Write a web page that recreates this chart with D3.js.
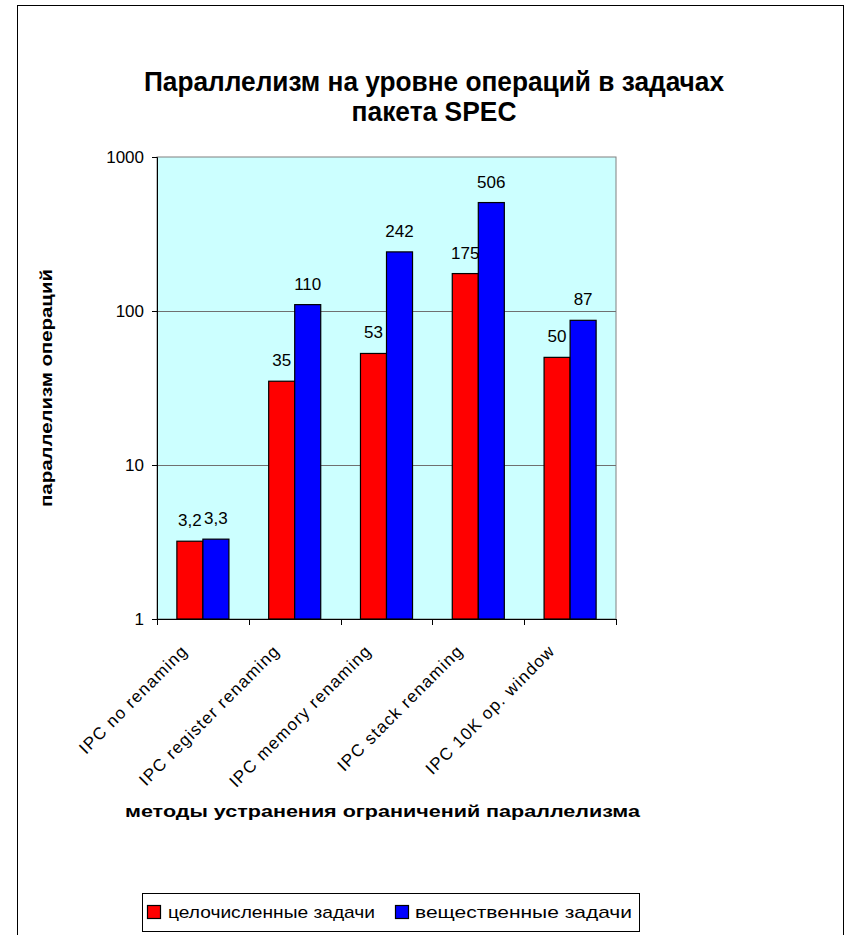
<!DOCTYPE html>
<html>
<head>
<meta charset="utf-8">
<script src="https://cdn.jsdelivr.net/npm/d3@7"></script>
<style>
  html, body { margin: 0; padding: 0; background: #ffffff; }
  svg { display: block; }
  text { font-family: "Liberation Sans", Arial, sans-serif; fill: #000; }
</style>
</head>
<body>
<svg id="chart" width="850" height="935"></svg>
<script>
// Instruction-level parallelism of SPEC programs, by renaming technique
const categories = [
  "IPC no renaming",
  "IPC register renaming",
  "IPC memory renaming",
  "IPC stack renaming",
  "IPC 10K op. window"
];
const seriesNames = ["целочисленные задачи", "вещественные задачи"];
const integerTasks = [3.2, 35, 53, 175, 50];
const floatTasks = [3.3, 110, 242, 506, 87];
const seriesColors = ["#ff0000", "#0000ff"];
const yTicks = [1, 10, 100, 1000];
const titleLines = ["Параллелизм на уровне операций в задачах", "пакета SPEC"];
const yTitle = "параллелизм операций";
const xTitle = "методы устранения ограничений параллелизма";

const svg = d3.select("#chart");
const plot = { left: 157, top: 157, right: 616, bottom: 619 };

// Outer chart frame
svg.append("rect")
  .attr("x", 17.5).attr("y", 5.5)
  .attr("width", 826).attr("height", 940)
  .attr("fill", "#fff").attr("stroke", "#000").attr("stroke-width", 1);

// Title (condensed bold)
const titleWidths = [580, 165];
const title = svg.append("g");
titleLines.forEach((t, i) => {
  title.append("text")
    .attr("x", 434).attr("y", 91 + i * 30)
    .attr("text-anchor", "middle")
    .attr("textLength", titleWidths[i])
    .attr("lengthAdjust", "spacingAndGlyphs")
    .style("font-family", "'Liberation Sans Narrow', 'Liberation Sans', Arial, sans-serif")
    .style("font-weight", "bold")
    .style("font-size", "28px")
    .text(t);
});

// Scales
const x = d3.scaleBand()
  .domain(categories)
  .range([plot.left, plot.right])
  .paddingInner(0.433)
  .paddingOuter(0.2165);
const xInner = d3.scaleBand()
  .domain(seriesNames)
  .range([0, x.bandwidth()]);
const y = d3.scaleLog()
  .domain([1, 1000])
  .range([plot.bottom, plot.top]);

// Plot area background
svg.append("rect")
  .attr("x", plot.left).attr("y", plot.top)
  .attr("width", plot.right - plot.left).attr("height", plot.bottom - plot.top)
  .attr("fill", "#ccffff").attr("stroke", "#808080").attr("stroke-width", 1);

// Gridlines
svg.append("g")
  .selectAll("line")
  .data(yTicks.filter(v => v > 1 && v < 1000))
  .join("line")
  .attr("x1", plot.left).attr("x2", plot.right)
  .attr("y1", d => Math.round(y(d)) + 0.5).attr("y2", d => Math.round(y(d)) + 0.5)
  .attr("stroke", "#707070").attr("stroke-width", 1);

// Bars
const rows = categories.map((c, i) => ({
  category: c,
  values: [integerTasks[i], floatTasks[i]]
}));
const groups = svg.append("g")
  .selectAll("g")
  .data(rows)
  .join("g")
  .attr("transform", d => `translate(${x(d.category)},0)`);

groups.selectAll("rect")
  .data(d => d.values.map((v, j) => ({ v, name: seriesNames[j], color: seriesColors[j] })))
  .join("rect")
  .attr("x", d => xInner(d.name))
  .attr("y", d => y(d.v))
  .attr("width", xInner.bandwidth())
  .attr("height", d => y(1) - y(d.v))
  .attr("fill", d => d.color)
  .attr("stroke", "#000").attr("stroke-width", 1.2);

// Value labels
const fmt = v => String(v).replace(".", ",");
groups.selectAll("text.value")
  .data(d => d.values.map((v, j) => ({ v, name: seriesNames[j] })))
  .join("text")
  .attr("class", "value")
  .attr("x", d => xInner(d.name) + xInner.bandwidth() / 2)
  .attr("y", d => y(d.v) - 15)
  .attr("text-anchor", "middle")
  .style("font-size", "17px")
  .text(d => fmt(d.v));

// Y axis
const yAxis = svg.append("g")
  .attr("transform", `translate(${plot.left},0)`)
  .call(d3.axisLeft(y).tickValues(yTicks).tickFormat(d3.format("d")).tickSize(5).tickPadding(8));
yAxis.select(".domain").attr("stroke", "#000");
yAxis.selectAll(".tick line").attr("stroke", "#000");
yAxis.selectAll("text")
  .style("font-family", "'Liberation Sans', Arial, sans-serif")
  .style("font-size", "17px").attr("fill", "#000");

// X axis: ticks on category boundaries
const step = x.step();
const boundaries = d3.range(categories.length + 1).map(i => plot.left + i * step);
svg.append("line")
  .attr("x1", plot.left).attr("x2", plot.right)
  .attr("y1", plot.bottom + 0.5).attr("y2", plot.bottom + 0.5)
  .attr("stroke", "#000");
svg.append("g")
  .selectAll("line")
  .data(boundaries)
  .join("line")
  .attr("x1", d => Math.round(d) + 0.5).attr("x2", d => Math.round(d) + 0.5)
  .attr("y1", plot.bottom).attr("y2", plot.bottom + 6)
  .attr("stroke", "#000");

// Category labels, rotated
svg.append("g")
  .selectAll("text")
  .data(categories)
  .join("text")
  .attr("transform", d => `translate(${x(d) + x.bandwidth() / 2 - 14},652) rotate(-45)`)
  .attr("text-anchor", "end")
  .style("font-size", "17px")
  .style("letter-spacing", "1.2px")
  .text(d => d);

// Axis titles
svg.append("text")
  .attr("transform", `translate(52,388) rotate(-90)`)
  .attr("text-anchor", "middle")
  .attr("textLength", 238)
  .attr("lengthAdjust", "spacingAndGlyphs")
  .style("font-weight", "bold")
  .style("font-size", "17px")
  .text(yTitle);

svg.append("text")
  .attr("x", 125).attr("y", 817)
  .attr("textLength", 515)
  .attr("lengthAdjust", "spacingAndGlyphs")
  .style("font-weight", "bold")
  .style("font-size", "17px")
  .text(xTitle);

// Legend
const legend = svg.append("g");
legend.append("rect")
  .attr("x", 142.5).attr("y", 893.5)
  .attr("width", 497).attr("height", 38)
  .attr("fill", "#fff").attr("stroke", "#000");
const legendItems = [
  { name: seriesNames[0], color: seriesColors[0], sx: 147, tx: 168, len: 207 },
  { name: seriesNames[1], color: seriesColors[1], sx: 395, tx: 415, len: 217 }
];
legendItems.forEach(it => {
  legend.append("rect")
    .attr("x", it.sx + 0.5).attr("y", 905.5)
    .attr("width", 13).attr("height", 13)
    .attr("fill", it.color).attr("stroke", "#000").attr("stroke-width", 1.2);
  legend.append("text")
    .attr("x", it.tx).attr("y", 918)
    .attr("textLength", it.len)
    .attr("lengthAdjust", "spacingAndGlyphs")
    .style("font-size", "17px")
    .text(it.name);
});
</script>
</body>
</html>
